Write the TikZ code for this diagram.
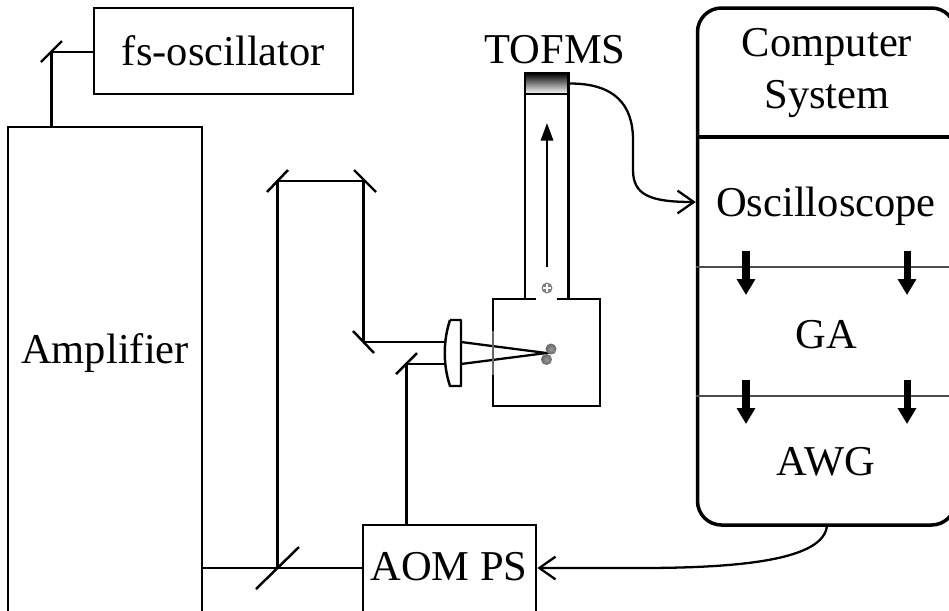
\documentclass[tikz,border=0pt]{standalone}
\usepackage{fontspec}
\setmainfont{Liberation Serif}
\usetikzlibrary{arrows.meta}
\def\px{0.02cm}
\tikzset{
	unitbox/.style={draw, line width=1.5pt, inner sep=0pt, minimum width=#1*\px},
	label/.style={font=\fontsize{24.2pt}{30pt}\selectfont, inner sep=0pt, align=center},
	mirror/.style={line width=1.4pt},
	beam/.style={line width=1.3pt},
	signal/.style={line width=1.3pt, -{Straight Barb[length=6.5mm*0.5, width=6.5mm*0.7, line width=1.3pt]}},
	flow/.style={line width=4pt, -{Triangle[length=9pt, width=10pt]}},
	divider/.style={line width=0.7pt, draw=black!70},
	atom/.style={inner color=black!40, outer color=black!60}
}
\begin{document}
\begin{tikzpicture}[x=0.02cm, y=-0.02cm]
	\useasboundingbox (0,0) rectangle (949,610);
	\clip (0,0) rectangle (949,610);
	\node[unitbox=259, minimum height=86*\px, label] (osc) at (223.5,51) {fs-oscillator};
	\node[unitbox=194, minimum height=540*\px] (amp) at (105,397) {};
	\node[label] (amptext) at (105,353) {Amplifier};
	\node[unitbox=173, minimum height=120*\px] (aom) at (449.5,585) {};
	\node[label] (aomtext) at (449,567) {AOM PS};

	\coordinate (m1) at (51.5,52);
	\coordinate (m2) at (277.5,568);
	\coordinate (m3) at (277.5,181);
	\coordinate (m4) at (363.5,181);
	\coordinate (m5) at (363.5,342);
	\coordinate (m6) at (406.5,364);
	\draw[mirror] (41,62) -- (62,41);
	\draw[mirror] (256,589) -- (299,547);
	\draw[mirror] (267,192) -- (288,170);
	\draw[mirror] (354,170) -- (376,192);
	\draw[mirror] (353,331) -- (374,353);
	\draw[mirror] (396,374) -- (417,353);

	\draw[beam] (osc.west |- m1) -- (m1) -- (m1 |- amp.north);
	\draw[beam] (amp.east |- m2) -- (aom.west |- m2);
	\draw[beam] (m2) -- (m3) -- (m4) -- (m5);

	\coordinate (lensa) at (445,342);
	\coordinate (lensb) at (445,364);
	\draw[beam] (m5) -- (lensa);
	\draw[beam] (aom.north -| m6) -- (m6) -- (lensb);
	\draw[mirror, line join=round] (450,320) -- (461,320) -- (461,386) -- (450,386)
		.. controls (443,365) and (443,341) .. (450,320);
	\coordinate (focus) at (546.5,353);
	\draw[beam] (461,342) -- (focus) -- (461,364);

	\draw[mirror] (493,331) -- (493,299) -- (536,299);
	\draw[mirror] (557,299) -- (600,299) -- (600,406) -- (493,406) -- (493,375);
	\draw[line width=0.6pt, draw=black!60] (493,331) -- (493,375);
	\draw[mirror] (525,299) -- (525,73) -- (568.5,73) -- (568.5,299);
	\shade[top color=black, bottom color=white] (525,73) rectangle (568.5,94);
	\draw[mirror] (525,73) rectangle (568.5,94);
	\node[label] (tofms) at (555,50) {TOFMS};
	\coordinate (tofout) at (568.5,83.5);
	\draw[beam, -{Triangle[length=10pt, width=7pt]}] (547,267) -- (547,123);

	\shade[atom] (551,349) circle (5.5);
	\shade[atom] (546.5,359.5) circle (5.5);
	\fill[black!50] (547,288) circle (5.5);
	\draw[white, line width=1pt] (543,288) -- (551,288) (547,284) -- (547,292);

	\node[draw, line width=2pt, inner sep=0pt, minimum width=258*\px, minimum height=517*\px, rounded corners=24*\px] (comp) at (826.5,266.5) {};
	\draw[line width=2pt] (comp.west |- 0,137) -- (comp.east |- 0,137);
	\draw[divider] (comp.west |- 0,267) -- (comp.east |- 0,267);
	\draw[divider] (comp.west |- 0,396) -- (comp.east |- 0,396);
	\node[label] (comptext) at (827,73) {Computer\\System};
	\node[label] (scope) at (826,206) {Oscilloscope};
	\node[label] (ga) at (826,335) {GA};
	\node[label] (awg) at (826,462) {AWG};

	\foreach \xx in {746,907} {
		\draw[flow] (\xx,251) -- (\xx,295);
		\draw[flow] (\xx,380) -- (\xx,424);
	}
	\coordinate (scopein) at (comp.west |- 0,202);
	\draw[signal] (tofout) .. controls (615,83) and (633,105) .. (633,140)
		-- (633,170) .. controls (633,195) and (650,202) .. (scopein);
	\coordinate (compout) at (827,525);
	\coordinate (aomin) at (aom.east |- m2);
	\draw[signal] (compout) .. controls (825,560) and (740,568) .. (640,568) -- (aomin);
\end{tikzpicture}
\end{document}
